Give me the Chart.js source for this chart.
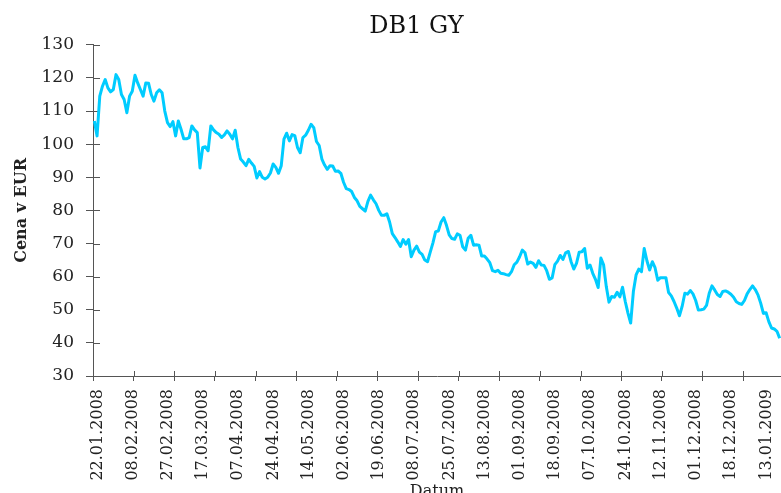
<!DOCTYPE html>
<html>
<head>
<meta charset="utf-8">
<title>DB1 GY</title>
<script src="https://cdn.jsdelivr.net/npm/chart.js@4.4.1/dist/chart.umd.min.js"></script>
<style>
    html, body { margin: 0; padding: 0; width: 781px; height: 493px; overflow: hidden; background: #fff; }
    canvas { display: block; }
</style>
</head>
<body>
<canvas id="chart" width="781" height="505"></canvas>
<script>
// dates shown under the axis, one every 13 trading days
const tickLabels = [
    "22.01.2008", "08.02.2008", "27.02.2008", "17.03.2008", "07.04.2008",
    "24.04.2008", "14.05.2008", "02.06.2008", "19.06.2008", "08.07.2008",
    "25.07.2008", "13.08.2008", "01.09.2008", "18.09.2008", "07.10.2008",
    "24.10.2008", "12.11.2008", "01.12.2008", "18.12.2008", "13.01.2009",
];
const labelEvery = 13;
const tickEvery = 15;

// daily close in EUR, one row per labelled period
const prices = [
    107, 102.5, 114.5, 117.5, 119.5, 117, 115.8, 116.5, 121, 119.5, 115, 113.5, 109.5,
    114.5, 116, 120.8, 118.5, 116.5, 114.5, 118.5, 118.4, 115, 113, 115.5, 116.4, 115.5,
    110, 106.5, 105.3, 106.8, 102.5, 107, 104.5, 101.6, 101.6, 102, 105.5, 104.3, 103.5,
    92.8, 99, 99.2, 98, 105.5, 104.3, 103.5, 103, 102, 102.8, 104, 103, 101.6,
    104.2, 99, 95.5, 94.6, 93.5, 95.4, 94.3, 93.3, 89.8, 91.7, 90, 89.5, 90,
    91.3, 94, 93, 91.2, 93.5, 101.5, 103.3, 101, 102.9, 102.6, 99, 97.4, 102,
    102.7, 104.2, 106, 105, 100.8, 99.6, 95.5, 93.7, 92.4, 93.5, 93.4, 91.8, 91.9,
    91.2, 88.5, 86.6, 86.3, 85.7, 83.9, 82.9, 81.2, 80.5, 79.8, 82.7, 84.6, 83.2,
    82, 80, 78.5, 78.5, 79, 76.5, 73, 71.8, 70.5, 69.1, 71.2, 69.8, 71.2,
    66, 68, 69.2, 67.4, 66.7, 65, 64.5, 67.4, 70.2, 73.6, 73.8, 76.5, 77.8,
    75.5, 72.6, 71.5, 71.3, 72.9, 72.5, 69, 68, 71.6, 72.5, 69.5, 69.6, 69.5,
    66.2, 66.2, 65.3, 64.2, 61.8, 61.5, 61.9, 61, 60.9, 60.6, 60.4, 61.5, 63.6,
    64.4, 66, 68, 67.2, 63.8, 64.4, 64, 62.8, 64.8, 63.5, 63.4, 61.8, 59.2,
    59.6, 63.6, 64.7, 66.4, 65.2, 67.2, 67.6, 64.5, 62.3, 64, 67.4, 67.5, 68.5,
    62.5, 63.5, 61, 59.2, 56.7, 65.6, 63.6, 57, 52.3, 54, 53.8, 55.3, 53.9,
    56.8, 52.5, 49, 46, 55.5, 60.5, 62.3, 61.5, 68.5, 64.8, 62, 64.5, 62.7,
    58.9, 59.7, 59.7, 59.7, 55.2, 54.2, 52.5, 50.5, 48.2, 51, 55, 54.7, 55.8,
    54.8, 52.8, 49.9, 50, 50.2, 51.3, 55, 57.2, 56, 54.6, 54, 55.5, 55.7,
    55.3, 54.7, 53.8, 52.4, 51.9, 51.6, 52.8, 54.8, 56.1, 57.2, 56.1, 54.5, 52,
    48.9, 49.1, 46.4, 44.5, 44.2, 43.5, 41.4,
];
const days = prices.map((_, i) => i);

const serif = "'DejaVu Serif', 'Liberation Serif', serif";
const axisColor = "#555555";
const textColor = "#222222";

// excel style tick marks that cross the axis line
const crossTicks = {
    id: "crossTicks",
    afterLayout(chart) {
        // the title sits a bit right of the canvas centre
        chart.titleBlock.left = 52;
    },
    beforeDatasetsDraw(chart) {
        const { ctx, chartArea, scales } = chart;
        ctx.save();
        ctx.strokeStyle = axisColor;
        ctx.lineWidth = 1;
        ctx.beginPath();
        scales.y.ticks.forEach((t, i) => {
            const y = Math.round(scales.y.getPixelForTick(i)) + 0.5;
            ctx.moveTo(chartArea.left, y);
            ctx.lineTo(chartArea.left + 7, y);
        });
        const half = (scales.x.getPixelForTick(1) - scales.x.getPixelForTick(0)) / 2;
        scales.x.ticks.forEach((t, i) => {
            if (i % tickEvery !== 0) return;
            const x = Math.round(scales.x.getPixelForTick(i) - half) + 0.5;
            ctx.moveTo(x, chartArea.bottom);
            ctx.lineTo(x, chartArea.bottom - 5);
        });
        ctx.stroke();
        ctx.restore();
    },
};

new Chart(document.getElementById("chart"), {
    type: "line",
    data: {
        labels: days,
        datasets: [
            {
                label: "DB1 GY",
                data: prices,
                borderColor: "#00CCFF",
                borderWidth: 3,
                pointRadius: 0,
                tension: 0,
                borderJoinStyle: "round",
            },
        ],
    },
    options: {
        responsive: false,
        animation: false,
        devicePixelRatio: 1,
        layout: { padding: 0 },
        scales: {
            x: {
                type: "category",
                offset: true,
                ticks: {
                    autoSkip: false,
                    minRotation: 90,
                    maxRotation: 90,
                    padding: 8,
                    labelOffset: 3,
                    color: textColor,
                    font: { family: serif, size: 16 },
                    callback: (value, index) => (index % labelEvery === 0 ? tickLabels[index / labelEvery] : ""),
                },
                grid: {
                    offset: true,
                    drawOnChartArea: false,
                    tickLength: 5,
                    color: (ctx) => (ctx.index % tickEvery === 0 ? axisColor : "rgba(0,0,0,0)"),
                },
                border: { color: axisColor },
                title: {
                    display: true,
                    text: "Datum",
                    color: textColor,
                    font: { family: serif, size: 16 },
                    padding: { top: 0, bottom: 4 },
                },
                afterFit(scale) {
                    scale.height = 129;
                    scale.paddingLeft = 0;
                    scale.paddingRight = 0;
                },
            },
            y: {
                min: 30,
                max: 130,
                ticks: {
                    stepSize: 10,
                    padding: 12,
                    color: textColor,
                    font: { family: serif, size: 17 },
                },
                grid: { drawOnChartArea: false, tickLength: 7, color: axisColor },
                border: { color: axisColor },
                title: {
                    display: true,
                    text: "Cena v EUR",
                    color: textColor,
                    font: { family: serif, size: 16, weight: "bold" },
                    padding: { top: 12, bottom: 0 },
                },
                afterFit(scale) {
                    scale.width = 93;
                    scale.paddingTop = 0;
                    scale.paddingBottom = 0;
                },
            },
        },
        plugins: {
            legend: { display: false },
            tooltip: { enabled: false },
            title: {
                display: true,
                text: "DB1 GY",
                color: "#111111",
                font: { family: serif, size: 24, weight: "normal" },
                padding: { top: 12, bottom: 4 },
            },
        },
    },
    plugins: [crossTicks],
});
</script>
</body>
</html>
